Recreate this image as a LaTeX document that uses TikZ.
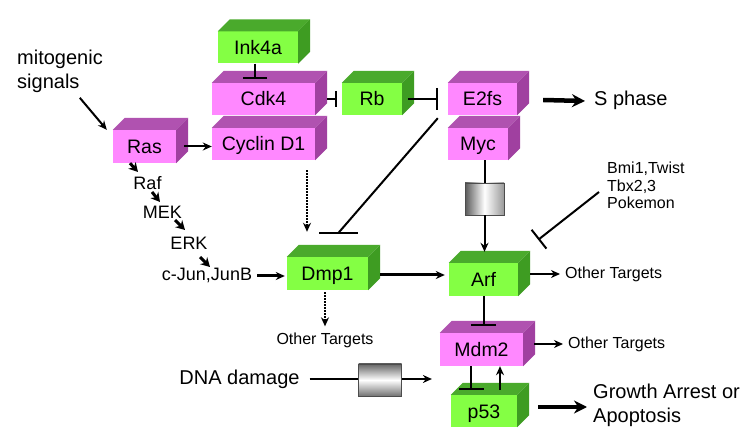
\documentclass[tikz,border=0pt]{standalone}
\usepackage{fontspec}
\setmainfont{Liberation Sans}
\usepackage{tikz}
\usetikzlibrary{calc, arrows.meta}
\tikzset{>=Stealth}
\usepackage{xcolor}
\definecolor{frontgreen}{HTML}{84FF44}
\definecolor{sidegreen}{HTML}{3E9C22}
\definecolor{topgreen}{HTML}{4AAA2C}
\definecolor{frontpink}{HTML}{FF88FF}
\definecolor{sidepink}{HTML}{A040A0}
\definecolor{toppink}{HTML}{B052B0}
\tikzset{
	gene/.style={inner sep=0pt, minimum height=32pt, text height=14pt, text depth=0pt, font=\fontsize{19.5}{22}\selectfont},
	greenbox/.style={gene, fill=frontgreen},
	pinkbox/.style={gene, fill=frontpink},
	bigtxt/.style={inner sep=0pt, align=left, font=\fontsize{20}{24}\selectfont},
	midtxt/.style={inner sep=0pt, font=\fontsize{18}{20}\selectfont},
	smalltxt/.style={inner sep=0pt, align=left, font=\fontsize{16}{17.5}\selectfont},
	link/.style={line width=2pt, -{Stealth[length=9pt,width=8pt]}},
	block/.style={line width=2pt, -{Bar[width=#1]}},
	fat/.style={line width=4.5pt, -{Stealth[length=13pt,width=13pt]}},
	hop/.style={line width=3pt, -{Stealth[length=9pt,width=10pt]}},
	gateV/.style={draw=black!70, line width=0.8pt, minimum width=39pt, minimum height=32pt, left color=black!65, right color=black!40, middle color=white},
	gateH/.style={draw=black!70, line width=0.8pt, minimum width=43pt, minimum height=32pt, top color=black!60, bottom color=black!55, middle color=white}
}
\begin{document}
\begin{tikzpicture}[x=1pt,y=-1pt]
	\useasboundingbox[fill=white] (0,0) rectangle (750,438);
	\node[greenbox, minimum width=80pt] (Ink4a) at (258,47.5) {Ink4a};
	\node[pinkbox, minimum width=103pt] (Cdk4) at (263.5,99) {Cdk4};
	\node[pinkbox, minimum width=103pt] (CycD) at (263.5,144) {Cyclin D1};
	\node[pinkbox, minimum width=63pt, minimum height=33pt] (Ras) at (144.5,146.5) {Ras};
	\node[greenbox, minimum width=60pt] (Rb) at (372,99) {Rb};
	\node[pinkbox, minimum width=69pt] (E2fs) at (482.5,99) {E2fs};
	\node[pinkbox, minimum width=60pt] (Myc) at (478,144) {Myc};
	\node[greenbox, minimum width=81pt, minimum height=33pt] (Dmp1) at (327.5,273.5) {Dmp1};
	\node[greenbox, minimum width=69pt, minimum height=33pt] (Arf) at (483.5,279.5) {Arf};
	\node[pinkbox, minimum width=83pt, minimum height=33pt] (Mdm2) at (481.5,349.5) {Mdm2};
	\node[greenbox, minimum width=66pt] (p53) at (484,411) {p53};
	\foreach \n/\c in {Ink4a/green,Cdk4/pink,CycD/pink,Ras/pink,Rb/green,E2fs/pink,Myc/pink,Dmp1/green,Arf/green,Mdm2/pink,p53/green}{
		\fill[top\c] (\n.north west) -- ++(12,-12) -- ($(\n.north east)+(12,-12)$) -- (\n.north east) -- cycle;
		\fill[side\c] (\n.north east) -- ++(12,-12) -- ($(\n.south east)+(12,-12)$) -- (\n.south east) -- cycle;
	}
	\node[gateV] (gateMyc) at (484.5,199) {};
	\node[gateH] (gateDNA) at (380,380) {};
	\node[bigtxt, anchor=west] (mito) at (17,71.5) {mitogenic\\signals};
	\node[bigtxt, anchor=west] (sphase) at (594,100) {S phase};
	\node[bigtxt, anchor=west] (growth) at (593,405.5) {Growth Arrest or\\Apoptosis};
	\node[bigtxt] (dna) at (239.5,379) {DNA damage};
	\node[midtxt] (raf) at (147.5,183) {Raf};
	\node[midtxt] (mek) at (162.5,212) {MEK};
	\node[midtxt] (erk) at (189,243) {ERK};
	\node[midtxt] (cjun) at (207,275) {c-Jun,JunB};
	\node[smalltxt] (otherD) at (325,340) {Other Targets};
	\node[smalltxt, anchor=west] (otherA) at (565,274) {Other Targets};
	\node[smalltxt, anchor=west] (otherM) at (568,344) {Other Targets};
	\node[smalltxt, anchor=west] (bmi) at (607,185.5) {Bmi1,Twist\\Tbx2,3\\Pokemon};
	\draw[link] ($(Ras.north west)+(-33,-32)$) -- ($(Ras.north west)+(-6,0)$);
	\draw[link] ($(Ras.east)+(8,0)$) -- (CycD.west |- Ras.east);
	\draw[block=24pt] ($(Ink4a.south)+(-3,0)$) -- ($(Cdk4.north)+(-8.5,-4)$);
	\draw[block=16pt] ($(Cdk4.east)+(12,0)$) -- ($(Rb.west)+(-5,0)$);
	\draw[block=22pt] ($(Rb.east)+(6,0)$) -- ($(E2fs.west)+(-10,0)$);
	\draw[fat] ($(E2fs.east)+(26,1)$) -- ($(sphase.west)+(-9,1)$);
	\draw[line width=2pt] ($(E2fs.south west)+(-10,3)$) -- ($(Dmp1.north)+(11,-24)$);
	\draw[line width=2pt] ($(Dmp1.north)+(-8.5,-24)$) -- ($(Dmp1.north)+(30.5,-24)$);
	\draw[link, densely dotted] ($(CycD.south)+(43.5,10)$) -- ($(Dmp1.north)+(-20.5,-25)$);
	\draw[line width=2pt] (gateMyc.north |- Myc.south) -- (gateMyc.north);
	\draw[link] (gateMyc.south) -- ($(gateMyc.south |- Arf.north)+(0,-11)$);
	\draw[block=24pt] ($(bmi.west)+(-8,6.5)$) -- ($(Arf.north east)+(20,-23)$);
	\draw[link, line width=3pt] ($(cjun.east)+(5,1)$) -- ($(Dmp1.west |- cjun.east)+(-2,1)$);
	\draw[link, line width=3pt] ($(Dmp1.east)+(12,1.5)$) -- ($(Arf.west |- Dmp1.east)+(-4,1.5)$);
	\draw[link, densely dotted] ($(Dmp1.south)+(-2.5,2)$) -- ($(otherD.north)+(0,-6)$);
	\draw[link] ($(Arf.east)+(12,-5.5)$) -- ($(otherA.west)+(-5,0)$);
	\draw[block=25pt] (Arf.south) -- ($(Mdm2.north)+(2,-7)$);
	\draw[link] ($(Mdm2.east)+(11,-5.5)$) -- ($(otherM.west)+(-5,0)$);
	\draw[block=25pt] ($(Mdm2.south)+(-10.5,0)$) -- ($(p53.north)+(-13,-5)$);
	\draw[link] ($(p53.north)+(16,-5)$) -- ($(Mdm2.south)+(18.5,0)$);
	\draw[fat] ($(p53.east)+(21,-4)$) -- ($(growth.west)+(-6,1.5)$);
	\draw[line width=2pt] ($(dna.east)+(10,0)$) -- (gateDNA.west |- dna.east);
	\draw[link] (gateDNA.east |- dna.east) -- ($(gateDNA.east |- dna.east)+(30,0)$);
	\draw[hop] ($(Ras.south)+(-14.5,0)$) -- ($(raf)+(-9.5,-11)$);
	\draw[hop] ($(raf)+(4.5,9)$) -- ($(mek)+(-2.5,-10)$);
	\draw[hop] ($(mek)+(12.5,8)$) -- ($(erk)+(-4,-13)$);
	\draw[hop] ($(erk)+(11,14)$) -- ($(cjun)+(3,-8)$);
\end{tikzpicture}
\end{document}
